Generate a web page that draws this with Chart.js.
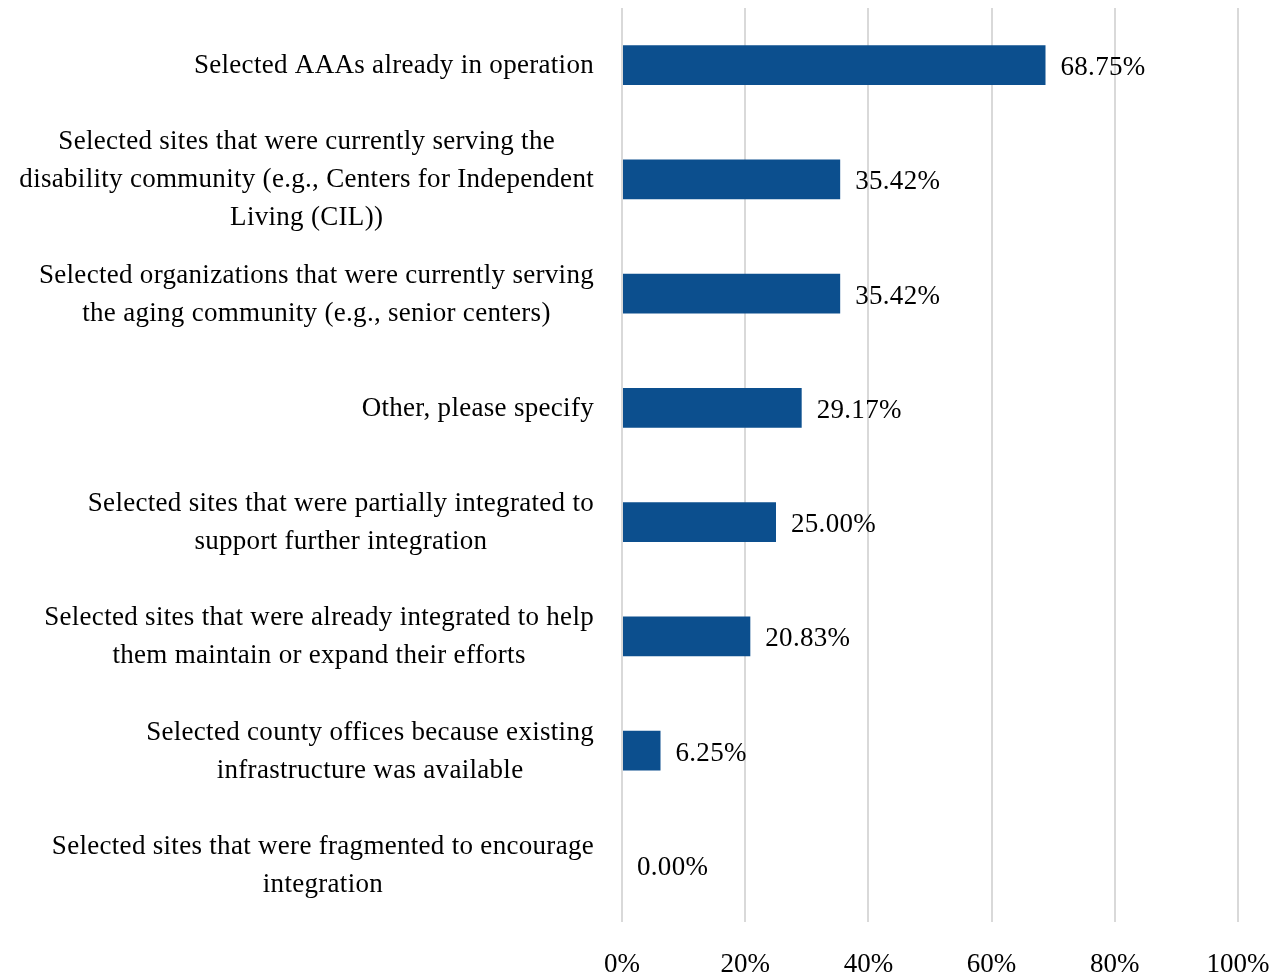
<!DOCTYPE html>
<html>
<head>
<meta charset="utf-8">
<script src="https://cdn.jsdelivr.net/npm/chart.js@4"></script>
<style>
  html, body { margin: 0; padding: 0; background: #ffffff; }
  #wrap { width: 1281px; height: 977px; }
</style>
</head>
<body>
<div id="wrap"><canvas id="chart" width="1281" height="977"></canvas></div>
<script>
// Category labels, one array of lines per bar
const categories = [
  ["Selected AAAs already in operation"],
  ["Selected sites that were currently serving the", "disability community (e.g., Centers for Independent", "Living (CIL))"],
  ["Selected organizations that were currently serving", "the aging community (e.g., senior centers)"],
  ["Other, please specify"],
  ["Selected sites that were partially integrated to", "support further integration"],
  ["Selected sites that were already integrated to help", "them maintain or expand their efforts"],
  ["Selected county offices because existing", "infrastructure was available"],
  ["Selected sites that were fragmented to encourage", "integration"]
];
// Share of respondents (%)
const shares = [68.75, 35.42, 35.42, 29.17, 25.00, 20.83, 6.25, 0.00];
// X axis ticks (%)
const xTicks = [0, 20, 40, 60, 80, 100];

const FONT = "'Liberation Serif', 'Times New Roman', serif";
const FONT_SIZE = 27;
const LINE_H = 38;

// Category labels: each block right-aligned to the plot, lines centred within the block
const categoryLabels = {
  id: 'categoryLabels',
  afterDraw(chart) {
    const ctx = chart.ctx;
    const y = chart.scales.y;
    const right = chart.chartArea.left - 28;
    ctx.save();
    ctx.font = FONT_SIZE + 'px ' + FONT;
    ctx.letterSpacing = '0.3px';
    ctx.fillStyle = '#000000';
    ctx.textBaseline = 'middle';
    ctx.textAlign = 'center';
    categories.forEach((lines, i) => {
      const widest = Math.max(...lines.map(l => ctx.measureText(l).width));
      const cx = right - widest / 2;
      const cy = y.getPixelForValue(i) + 1;
      const top = cy - (lines.length - 1) * LINE_H / 2;
      lines.forEach((l, k) => ctx.fillText(l, cx, top + k * LINE_H));
    });
    ctx.restore();
  }
};

// Value labels at the end of each bar
const valueLabels = {
  id: 'valueLabels',
  afterDatasetsDraw(chart) {
    const ctx = chart.ctx;
    const meta = chart.getDatasetMeta(0);
    ctx.save();
    ctx.font = FONT_SIZE + 'px ' + FONT;
    ctx.letterSpacing = '0.3px';
    ctx.fillStyle = '#000000';
    ctx.textBaseline = 'middle';
    ctx.textAlign = 'left';
    meta.data.forEach((bar, i) => {
      ctx.fillText(shares[i].toFixed(2) + '%', bar.x + 15, bar.y + 3);
    });
    ctx.restore();
  }
};

new Chart(document.getElementById('chart'), {
  type: 'bar',
  data: {
    labels: categories.map(c => c.join(' ')),
    datasets: [{
      data: shares,
      backgroundColor: '#0c4f8e',
      borderWidth: 0,
      categoryPercentage: 1.0,
      barPercentage: 0.35
    }]
  },
  options: {
    indexAxis: 'y',
    responsive: false,
    animation: false,
    layout: { padding: { left: 622, right: 43, top: 8, bottom: 0 } },
    plugins: {
      legend: { display: false },
      tooltip: { enabled: false }
    },
    scales: {
      x: {
        min: 0,
        max: 100,
        afterBuildTicks(axis) { axis.ticks = xTicks.map(v => ({ value: v })); },
        afterFit(axis) {
          axis.height = 55;
          axis.paddingLeft = 0;
          axis.paddingRight = 0;
        },
        grid: { color: '#d9d9d9', lineWidth: 2, drawTicks: false },
        border: { display: false },
        ticks: {
          padding: 27,
          color: '#000000',
          maxRotation: 0,
          font: { family: FONT, size: FONT_SIZE },
          callback: v => v + '%'
        }
      },
      y: {
        display: false
      }
    }
  },
  plugins: [valueLabels, categoryLabels]
});
</script>
</body>
</html>
